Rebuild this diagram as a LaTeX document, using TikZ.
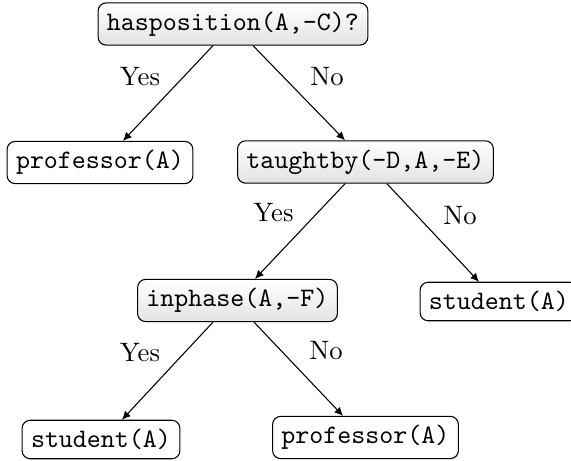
\documentclass[tikz,border=0pt]{standalone}
\usetikzlibrary{calc,arrows.meta}
\begin{document}
\begin{tikzpicture}[x=0.375pt,y=-0.375pt,
  base/.style={draw, rounded corners=3pt, font=\ttfamily, inner sep=3.33pt, line width=0.4pt},
  test/.style={base, top color=white, bottom color=gray!22},
  leaf/.style={base, fill=white},
  edge/.style={-{Latex[length=3.2pt,width=3pt]}, line width=0.4pt},
  lab/.style={font=\rmfamily}]
\useasboundingbox (0,0) rectangle (571,460);
\node[test] (root) at (233,24) {hasposition(A,-C)?};
\node[leaf] (p1) at (100,162.5) {professor(A)};
\node[test] (tb) at (365.5,162) {taughtby(-D,A,-E)};
\node[test] (ip) at (237.5,300.5) {inphase(A,-F)};
\node[leaf] (s1) at (499,301.5) {student(A)};
\node[leaf] (s2) at (101,439.5) {student(A)};
\node[leaf] (p2) at (365.5,437.5) {professor(A)};
\draw[edge] ($(root.south)+(-20,0)$) -- ($(p1.north)+(23,0)$);
\draw[edge] ($(root.south)+(20,0)$) -- ($(tb.north)+(-20.5,0)$);
\draw[edge] ($(tb.south)+(-20.5,0)$) -- ($(ip.north)+(17.5,0)$);
\draw[edge] ($(tb.south)+(21.5,0)$) -- ($(s1.north)+(-20,0)$);
\draw[edge] ($(ip.south)+(-24.5,0)$) -- ($(s2.north)+(21,0)$);
\draw[edge] ($(ip.south)+(16.5,0)$) -- ($(p2.north)+(-22.5,0)$);
\node[lab] (y1) at (140,77) {Yes};
\node[lab] (n1) at (327,77) {No};
\node[lab] (y2) at (273.5,213) {Yes};
\node[lab] (n2) at (460,216) {No};
\node[lab] (y3) at (140,353) {Yes};
\node[lab] (n3) at (326,351) {No};
\end{tikzpicture}
\end{document}
